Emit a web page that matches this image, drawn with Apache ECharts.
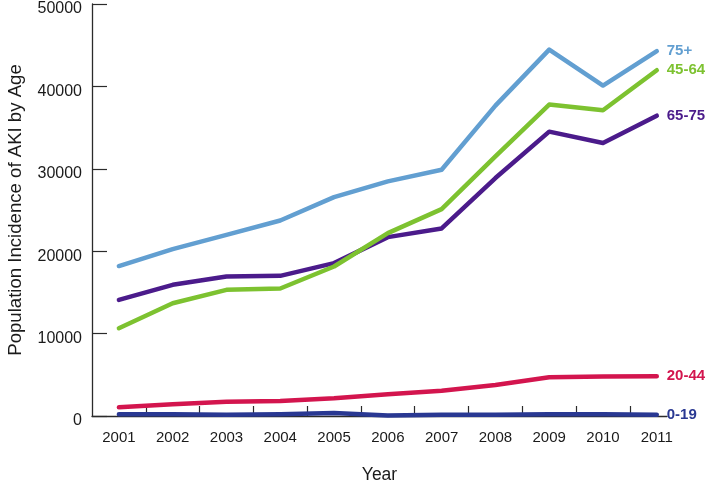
<!DOCTYPE html>
<html>
<head>
<meta charset="utf-8">
<script src="https://cdn.jsdelivr.net/npm/echarts@6/dist/echarts.min.js"></script>
<style>html,body{margin:0;padding:0;background:#fff}#c{width:709px;height:487px}</style>
</head>
<body>
<div id="c"></div>
<script>
const years = [2001, 2002, 2003, 2004, 2005, 2006, 2007, 2008, 2009, 2010, 2011];
const yTicks = [0, 10000, 20000, 30000, 40000, 50000];
const age75plus = [18200, 20250, 21990, 23730, 26570, 28470, 29890, 37670, 44470, 40100, 44270];
const age45to64 = [10650, 13690, 15310, 15470, 18140, 22200, 25110, 31500, 37790, 37100, 41960];
const age65to75 = [14090, 15920, 16930, 17010, 18550, 21710, 22760, 28880, 34510, 33130, 36450];
const age20to44 = [1060, 1420, 1740, 1820, 2150, 2640, 3070, 3770, 4700, 4780, 4820];
const age0to19 = [200, 200, 150, 200, 350, 60, 150, 150, 200, 200, 150];
const seriesNames = ['75+', '45-64', '65-75', '20-44', '0-19'];
const seriesColors = ['#629fd1', '#7dc230', '#4b1b8b', '#d3154e', '#293892'];
const seriesValues = [age75plus, age45to64, age65to75, age20to44, age0to19];

const chart = echarts.init(document.getElementById('c'), null, {renderer: 'canvas'});
const font = '"Liberation Sans", Arial, Helvetica, sans-serif';
const axisColor = '#2b2b2b';

chart.setOption({
  animation: false,
  backgroundColor: '#ffffff',
  grid: {left: 92, right: 42, top: 4, bottom: 71, containLabel: false, outerBoundsMode: 'none'},
  xAxis: {
    type: 'value',
    min: years[0] - 0.5,
    max: years[years.length - 1] + 0.19,
    name: 'Year',
    nameLocation: 'middle',
    nameGap: 50,
    nameTextStyle: {fontFamily: font, fontSize: 17.5, color: '#1a1a1a'},
    axisLine: {show: true, lineStyle: {color: axisColor, width: 1.3}},
    axisTick: {show: true, inside: true, length: 10, lineStyle: {color: axisColor, width: 1.2},
      customValues: years.slice(0, -1).map(y => y + 0.5)},
    axisLabel: {show: true, margin: 14, fontFamily: font, fontSize: 15, color: '#1a1a1a',
      customValues: years, formatter: v => String(v)},
    splitLine: {show: false}
  },
  yAxis: {
    type: 'value',
    min: 0,
    max: 50000,
    interval: 10000,
    name: 'Population Incidence of AKI by Age',
    nameLocation: 'middle',
    nameGap: 67,
    nameTextStyle: {fontFamily: font, fontSize: 18.6, color: '#1a1a1a'},
    axisLine: {show: true, lineStyle: {color: axisColor, width: 1.3}},
    axisTick: {show: true, inside: true, length: 15, lineStyle: {color: axisColor, width: 1.2}},
    axisLabel: {margin: 10, fontFamily: font, fontSize: 16, color: '#1a1a1a',
      verticalAlign: 'top', lineHeight: 10,
      customValues: yTicks, formatter: v => String(v)},
    splitLine: {show: false}
  },
  series: seriesNames.map((name, i) => ({
    name: name,
    type: 'line',
    data: years.map((y, j) => [y, seriesValues[i][j]]),
    showSymbol: false,
    symbol: 'none',
    lineStyle: {color: seriesColors[i], width: 4.5, cap: 'round', join: 'round'},
    itemStyle: {color: seriesColors[i]},
    endLabel: {
      show: true,
      formatter: name,
      distance: 10,
      color: seriesColors[i],
      fontFamily: font,
      fontWeight: 'bold',
      fontSize: 15
    },
    z: 10 - i
  }))
});
</script>
</body>
</html>
